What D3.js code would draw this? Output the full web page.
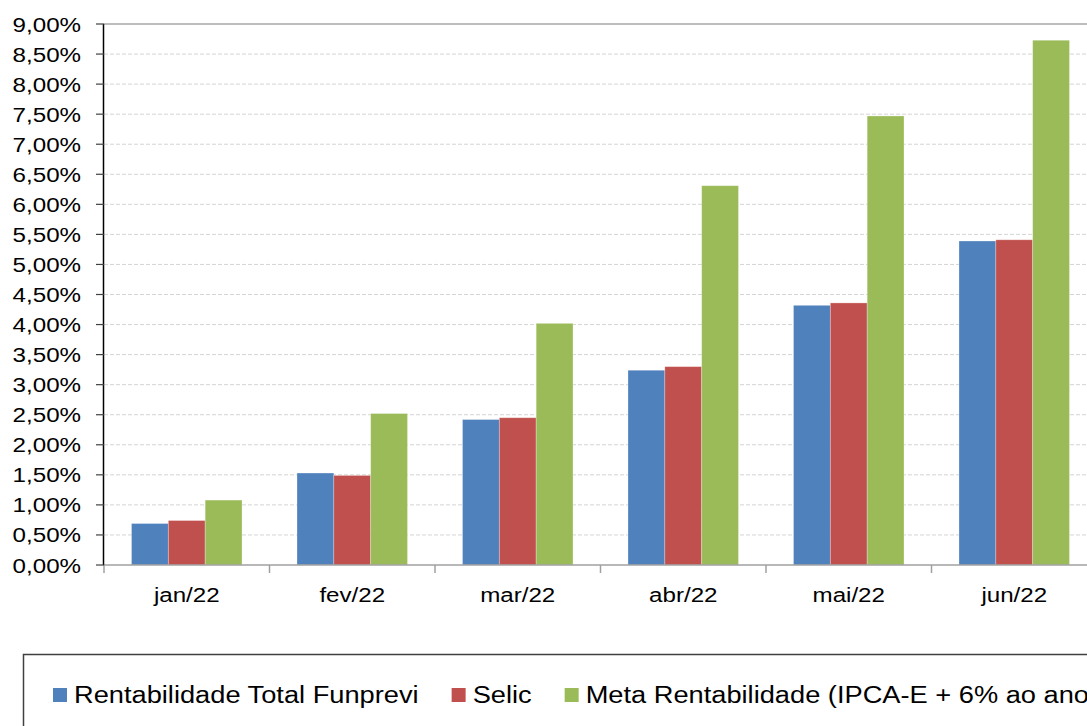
<!DOCTYPE html>
<html>
<head>
<meta charset="utf-8">
<script src="https://cdn.jsdelivr.net/npm/d3@7"></script>
<style>
  body { margin: 0; background: #fff; overflow: hidden; }
  text { font-family: "Liberation Sans", Arial, sans-serif; fill: #000; }
</style>
</head>
<body>
<div id="chart"></div>
<script>
// Data
const months = ["jan/22", "fev/22", "mar/22", "abr/22", "mai/22", "jun/22"];
const seriesNames = ["Rentabilidade Total Funprevi", "Selic", "Meta Rentabilidade (IPCA-E + 6% ao ano)"];
const funprevi = [0.69, 1.53, 2.42, 3.24, 4.32, 5.39];
const selic = [0.74, 1.49, 2.45, 3.30, 4.36, 5.41];
const meta = [1.08, 2.52, 4.02, 6.31, 7.47, 8.73];
const yTicks = d3.range(0, 9.01, 0.5);
const colors = ["#4F81BD", "#C0504D", "#9BBB59"];

const width = 1087, height = 726;
const stretch = 1.15; // text in the source is slightly wide
const plot = { left: 104, top: 24, right: 1097, bottom: 565 };

const svg = d3.select("#chart").append("svg")
    .attr("width", width)
    .attr("height", height);

const x = d3.scaleBand().domain(months).range([plot.left, plot.right]).padding(0);
const xs = d3.scaleBand().domain(d3.range(3))
    .range([27.5, x.bandwidth() - 27.5]);
const y = d3.scaleLinear().domain([0, 9]).range([plot.bottom, plot.top]);

const fmt = v => d3.format(".2f")(v).replace(".", ",") + "%";

// gridlines
svg.append("g")
    .selectAll("line")
    .data(yTicks.filter(d => d > 0 && d < 9))
    .join("line")
    .attr("x1", plot.left).attr("x2", plot.right)
    .attr("y1", d => y(d)).attr("y2", d => y(d))
    .attr("stroke", "#d4d4d4")
    .attr("stroke-dasharray", "4,2");

// top border
svg.append("line")
    .attr("x1", plot.left).attr("x2", plot.right)
    .attr("y1", y(9)).attr("y2", y(9))
    .attr("stroke", "#a6a6a6").attr("stroke-width", 1.5);

// bars
const data = months.map((m, i) => ({ m, vals: [funprevi[i], selic[i], meta[i]] }));
svg.append("g")
    .selectAll("g")
    .data(data)
    .join("g")
    .attr("transform", d => `translate(${x(d.m)},0)`)
    .selectAll("rect")
    .data(d => d.vals.map((v, k) => ({ v, k })))
    .join("rect")
    .attr("x", d => xs(d.k))
    .attr("width", xs.bandwidth())
    .attr("y", d => y(d.v))
    .attr("height", d => y(0) - y(d.v))
    .attr("fill", d => colors[d.k])
    .attr("stroke", "rgba(255,255,255,0.35)")
    .attr("stroke-width", 0.8);

// x axis
svg.append("line")
    .attr("x1", plot.left).attr("x2", plot.right)
    .attr("y1", plot.bottom).attr("y2", plot.bottom)
    .attr("stroke", "#a0a0a0").attr("stroke-width", 1.5);
svg.append("g")
    .selectAll("line")
    .data(months)
    .join("line")
    .attr("x1", d => x(d)).attr("x2", d => x(d))
    .attr("y1", plot.bottom).attr("y2", plot.bottom + 8)
    .attr("stroke", "#a0a0a0").attr("stroke-width", 1.5);
svg.append("g")
    .selectAll("text")
    .data(months)
    .join("text")
    .attr("transform", d => `translate(${x(d) + x.bandwidth() / 2},${plot.bottom + 37}) scale(${stretch},1)`)
    .attr("text-anchor", "middle")
    .style("font-size", "21px")
    .text(d => d);

// y axis
svg.append("line")
    .attr("x1", plot.left - 0.5).attr("x2", plot.left - 0.5)
    .attr("y1", plot.top).attr("y2", plot.bottom)
    .attr("stroke", "#000").attr("stroke-width", 1.5);
svg.append("g")
    .selectAll("line")
    .data(yTicks)
    .join("line")
    .attr("x1", plot.left - 8).attr("x2", plot.left)
    .attr("y1", d => y(d)).attr("y2", d => y(d))
    .attr("stroke", "#404040").attr("stroke-width", 1.2);
svg.append("g")
    .selectAll("text")
    .data(yTicks)
    .join("text")
    .attr("transform", d => `translate(${plot.left - 23},${y(d) + 7.5}) scale(${stretch},1)`)
    .attr("text-anchor", "end")
    .style("font-size", "21px")
    .text(fmt);

// legend
svg.append("rect")
    .attr("x", 23.5).attr("y", 654.5)
    .attr("width", 1100).attr("height", 120)
    .attr("fill", "none")
    .attr("stroke", "#404040").attr("stroke-width", 1.5);

let lx = 53;
seriesNames.forEach((name, i) => {
    svg.append("rect")
        .attr("x", lx).attr("y", 688)
        .attr("width", 14).attr("height", 14)
        .attr("fill", colors[i]);
    const t = svg.append("text")
        .attr("transform", `translate(${lx + 21},${703}) scale(${stretch},1)`)
        .style("font-size", "23.7px")
        .text(name);
    lx += 21 + t.node().getComputedTextLength() * stretch + 33;
});
</script>
</body>
</html>
